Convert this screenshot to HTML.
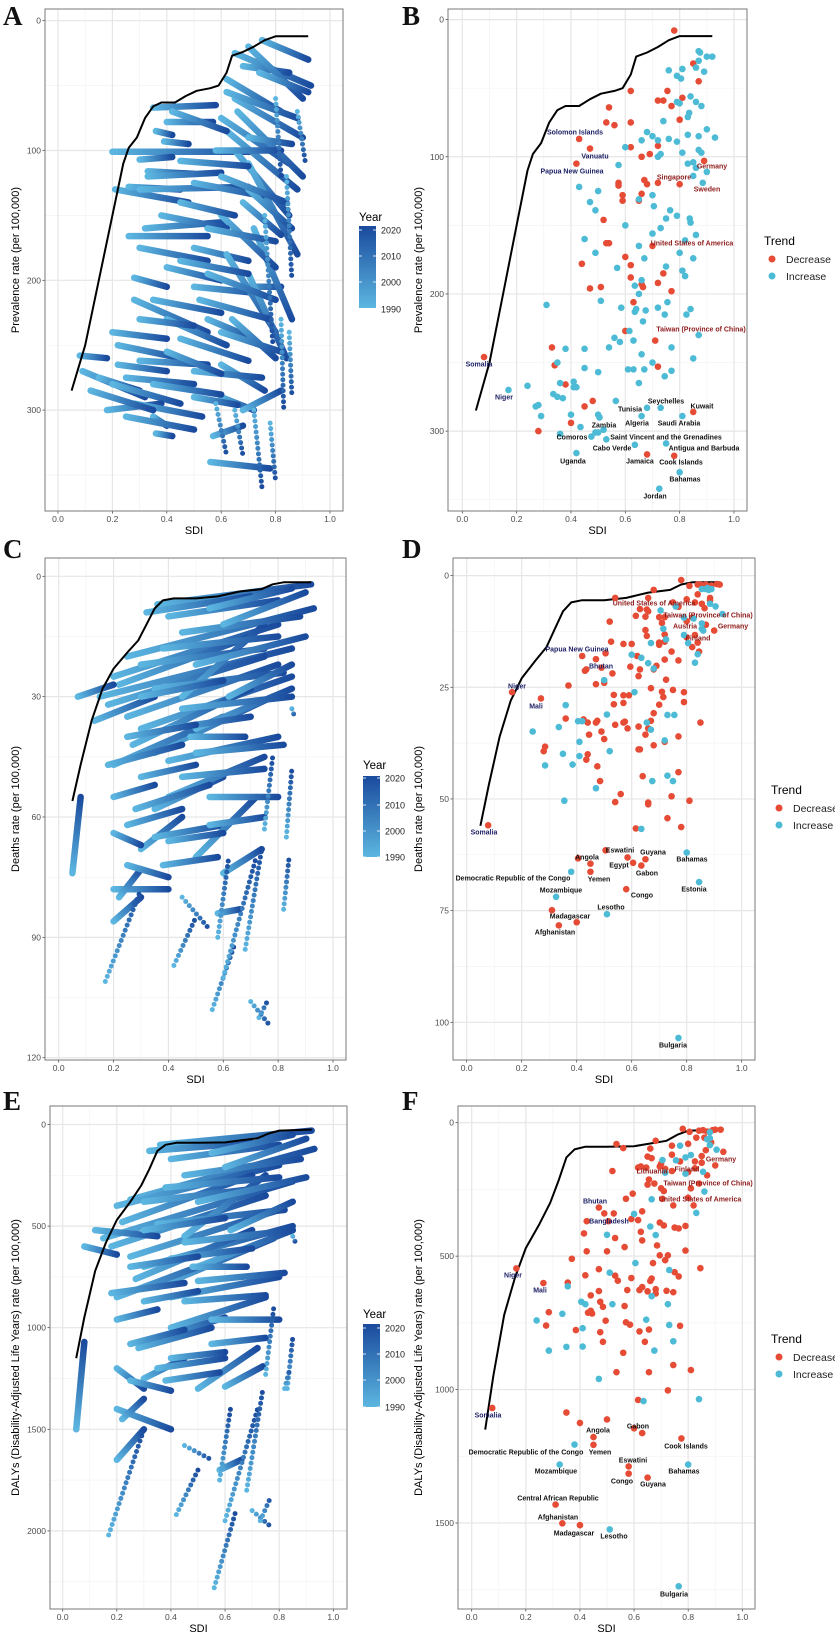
<!DOCTYPE html>
<html><head><meta charset="utf-8">
<style>
html,body{margin:0;padding:0;background:#fff;}
svg{display:block;font-family:"Liberation Sans",sans-serif;}
.lt{font-family:"Liberation Serif",serif;font-weight:bold;font-size:27px;fill:#111;}
</style></head>
<body>
<svg id="fig" width="835" height="1637" viewBox="0 0 835 1637" xmlns="http://www.w3.org/2000/svg">
<text class="lt" x="3" y="25">A</text>
<text class="lt" x="402" y="25">B</text>
<text class="lt" x="3" y="558">C</text>
<text class="lt" x="402" y="558">D</text>
<text class="lt" x="3" y="1110">E</text>
<text class="lt" x="402" y="1110">F</text>
</svg>
<script>
// ---------- data ----------
const xTicks=[0,0.2,0.4,0.6,0.8,1.0];
const xTickLabels=["0.0","0.2","0.4","0.6","0.8","1.0"];
const yearTicks=[2020,2010,2000,1990];
const curvePrev=[[0.05,285],[0.1,250],[0.15,200],[0.2,150],[0.24,110],[0.26,98],[0.29,90],[0.32,75],[0.35,66],[0.38,63],[0.43,63],[0.47,58],[0.51,54],[0.56,52],[0.59,50],[0.62,40],[0.64,27],[0.68,24],[0.72,20],[0.76,15],[0.8,12],[0.85,12],[0.92,12]];
const curveDeath=[[0.05,56],[0.08,47],[0.12,36],[0.16,28],[0.2,23],[0.25,19],[0.29,16],[0.32,12],[0.35,8],[0.38,6],[0.42,5.5],[0.5,5.5],[0.58,5],[0.66,3.8],[0.74,3.2],[0.78,2],[0.82,1.5],[0.92,1.5]];
const curveDaly=[[0.05,1150],[0.08,950],[0.12,720],[0.16,580],[0.2,470],[0.25,380],[0.29,300],[0.32,220],[0.35,130],[0.38,100],[0.42,90],[0.5,90],[0.6,88],[0.66,78],[0.72,68],[0.76,45],[0.8,30],[0.92,25]];
const trajA=[[0.35,67,0.58,65],[0.4,78,0.57,78],[0.36,85,0.42,88],[0.39,93,0.48,95],[0.2,101,0.72,101],[0.3,107,0.42,105],[0.33,116,0.5,118],[0.33,120,0.6,117],[0.21,130,0.48,140],[0.26,128,0.45,130],[0.3,130,0.7,128],[0.26,166,0.55,166],[0.32,160,0.62,155],[0.5,175,0.7,185],[0.4,190,0.6,200],[0.28,198,0.4,205],[0.5,205,0.74,210],[0.28,215,0.55,240],[0.35,215,0.6,225],[0.55,230,0.72,245],[0.2,240,0.4,245],[0.22,250,0.45,260],[0.3,262,0.55,265],[0.08,258,0.18,260],[0.09,270,0.32,290],[0.15,275,0.3,285],[0.2,280,0.45,295],[0.18,300,0.38,295],[0.28,295,0.53,305],[0.35,305,0.4,312],[0.36,318,0.42,320],[0.6,290,0.72,300],[0.68,300,0.82,285],[0.57,320,0.68,312],[0.56,340,0.78,345],[0.6,265,0.76,285],[0.68,205,0.82,205],[0.65,25,0.93,50],[0.68,35,0.85,40],[0.7,20,0.9,60],[0.62,45,0.82,70],[0.65,60,0.9,90],[0.6,75,0.85,110],[0.62,85,0.88,130],[0.65,100,0.85,150],[0.7,110,0.88,180],[0.68,140,0.82,165],[0.72,160,0.86,230],[0.6,150,0.8,190],[0.62,180,0.8,240],[0.7,195,0.84,260],[0.75,15,0.92,30],[0.45,140,0.65,150],[0.4,230,0.62,250],[0.25,275,0.5,280],
[0.42,70,0.62,85],[0.45,108,0.7,112],[0.5,125,0.75,135],[0.38,150,0.62,160],[0.55,160,0.8,170],[0.3,175,0.55,185],[0.45,185,0.7,195],[0.55,195,0.8,215],[0.3,230,0.5,235],[0.45,245,0.7,262],[0.5,270,0.75,275],[0.35,280,0.6,288],[0.12,285,0.35,300],[0.25,305,0.5,315],[0.62,55,0.88,75],[0.66,70,0.9,120],[0.7,130,0.86,160],[0.74,40,0.92,55],[0.58,100,0.82,100],[0.6,120,0.84,140],[0.52,215,0.78,230],[0.6,240,0.82,255],[0.4,255,0.6,272],[0.22,265,0.4,270],[0.5,290,0.66,296],[0.64,230,0.8,260],[0.7,90,0.86,95]];
const colsA=[[0.8,60,0.82,120],[0.84,120,0.86,200],[0.85,240,0.86,290],[0.72,300,0.75,360],[0.78,310,0.8,355],[0.65,300,0.68,335],[0.58,295,0.62,335],[0.88,70,0.91,110],[0.76,150,0.79,250],[0.82,230,0.83,300]];
const trajC=[[0.36,7,0.92,2],[0.32,9,0.7,5],[0.25,20,0.93,8],[0.2,25,0.8,12],[0.15,30,0.85,18],[0.22,27,0.7,15],[0.18,32,0.75,20],[0.25,35,0.8,22],[0.3,38,0.85,25],[0.27,42,0.7,28],[0.35,44,0.78,30],[0.2,47,0.6,35],[0.4,46,0.8,40],[0.13,36,0.35,30],[0.07,30,0.2,27],[0.18,47,0.45,42],[0.35,58,0.6,50],[0.4,55,0.75,45],[0.28,58,0.55,52],[0.3,68,0.45,60],[0.35,65,0.6,62],[0.5,70,0.72,55],[0.2,64,0.3,67],[0.2,78,0.4,78],[0.22,80,0.3,73],[0.58,84,0.66,83],[0.2,86,0.3,80],[0.05,74,0.08,55],[0.45,30,0.75,12],[0.5,38,0.85,28],
[0.4,10,0.8,6],[0.45,14,0.88,10],[0.38,18,0.8,15],[0.3,22,0.75,18],[0.5,22,0.9,15],[0.35,28,0.82,24],[0.45,33,0.85,30],[0.3,30,0.6,26],[0.4,38,0.7,35],[0.25,40,0.5,37],[0.5,44,0.82,42],[0.45,50,0.75,48],[0.3,50,0.5,47],[0.55,55,0.8,55],[0.25,62,0.45,58],[0.4,66,0.6,64],[0.55,62,0.75,60],[0.38,72,0.58,70],[0.6,74,0.74,68],[0.25,72,0.4,75],[0.6,12,0.9,4],[0.55,8,0.85,3],[0.48,40,0.68,40],[0.62,30,0.85,22],[0.2,55,0.35,52]];
const colsC=[[0.17,101,0.3,78],[0.42,97,0.5,85],[0.56,108,0.64,92],[0.58,90,0.62,70],[0.6,100,0.72,70],[0.68,93,0.74,68],[0.7,106,0.77,112],[0.73,110,0.76,106],[0.75,63,0.78,45],[0.83,65,0.85,48],[0.82,83,0.84,70],[0.85,33,0.86,35],[0.45,80,0.55,88]];
const trajE=[[0.36,100,0.92,30],[0.32,130,0.7,90],[0.25,370,0.93,120],[0.2,400,0.8,200],[0.15,560,0.85,280],[0.22,480,0.7,250],[0.18,600,0.75,350],[0.25,650,0.8,420],[0.3,700,0.85,500],[0.27,760,0.7,520],[0.35,800,0.78,560],[0.2,850,0.6,650],[0.4,850,0.8,750],[0.12,520,0.35,550],[0.08,600,0.2,640],[0.18,830,0.45,780],[0.35,1050,0.6,950],[0.4,1000,0.75,850],[0.28,1100,0.55,1000],[0.3,1250,0.45,1150],[0.35,1200,0.6,1150],[0.5,1300,0.72,1100],[0.2,1200,0.3,1300],[0.2,1400,0.4,1500],[0.22,1450,0.3,1350],[0.58,1700,0.66,1650],[0.2,1650,0.3,1500],[0.05,1500,0.08,1070],[0.45,550,0.75,250],[0.5,700,0.85,520],
[0.4,170,0.8,100],[0.45,250,0.88,170],[0.38,310,0.8,260],[0.3,380,0.75,310],[0.5,380,0.9,260],[0.35,490,0.82,420],[0.45,580,0.85,520],[0.3,520,0.6,460],[0.4,660,0.7,610],[0.25,700,0.5,650],[0.5,770,0.82,730],[0.45,870,0.75,840],[0.3,870,0.5,820],[0.55,960,0.8,960],[0.25,1080,0.45,1010],[0.4,1150,0.6,1120],[0.55,1080,0.75,1050],[0.38,1260,0.58,1220],[0.6,1290,0.74,1190],[0.25,1260,0.4,1310],[0.6,210,0.9,70],[0.55,140,0.85,50],[0.48,700,0.68,700],[0.62,520,0.85,380],[0.2,960,0.35,910]];
const colsE=[[0.17,2020,0.3,1500],[0.42,1920,0.5,1700],[0.56,2280,0.64,1900],[0.58,1750,0.62,1400],[0.6,1950,0.72,1400],[0.68,1800,0.74,1300],[0.7,1900,0.77,1980],[0.73,1950,0.77,1830],[0.75,1230,0.78,900],[0.83,1300,0.85,1050],[0.82,1300,0.84,1200],[0.85,550,0.86,580],[0.45,1580,0.55,1650]];
const decB=[[0.78,8],[0.85,32],[0.87,45],[0.62,52],[0.755,52],[0.72,59],[0.74,59],[0.81,57],[0.77,63],[0.54,64],[0.53,75],[0.56,77],[0.62,75],[0.8,73],[0.43,87],[0.47,94],[0.62,93],[0.72,92],[0.66,100],[0.69,98],[0.89,103],[0.42,105],[0.67,117],[0.68,120],[0.72,119],[0.8,120],[0.575,119],[0.575,121],[0.59,128],[0.59,132],[0.66,127],[0.65,132],[0.52,146],[0.53,163],[0.54,163],[0.7,165],[0.6,173],[0.44,178],[0.62,179],[0.74,185],[0.47,196],[0.51,195],[0.62,188],[0.66,193],[0.665,195],[0.72,192],[0.77,198],[0.63,206],[0.6,227],[0.71,234],[0.33,239],[0.08,246],[0.34,252],[0.38,266],[0.72,253],[0.48,278],[0.45,282],[0.85,286],[0.4,294],[0.28,300],[0.68,317],[0.78,318]];
const incB=[[0.87,23],[0.875,24],[0.9,27],[0.92,27],[0.87,30],[0.86,35],[0.89,38],[0.76,37],[0.79,41],[0.805,43],[0.81,36],[0.84,56],[0.86,60],[0.79,60],[0.8,61],[0.88,63],[0.835,68],[0.83,71],[0.74,74],[0.9,80],[0.68,82],[0.7,85],[0.66,88],[0.76,87],[0.72,88],[0.79,89],[0.83,84],[0.87,85],[0.93,86],[0.6,93],[0.87,95],[0.88,97],[0.81,97],[0.73,98],[0.72,100],[0.83,105],[0.85,104],[0.86,108],[0.9,111],[0.575,106],[0.85,114],[0.885,119],[0.43,122],[0.5,125],[0.47,133],[0.49,139],[0.65,131],[0.7,128],[0.705,136],[0.765,139],[0.79,143],[0.75,145],[0.837,145],[0.84,148],[0.6,150],[0.73,152],[0.7,156],[0.86,157],[0.82,161],[0.45,160],[0.65,165],[0.8,170],[0.49,170],[0.67,174],[0.85,174],[0.57,181],[0.75,180],[0.81,183],[0.82,187],[0.66,190],[0.635,194],[0.65,200],[0.755,206],[0.51,205],[0.31,208],[0.585,210],[0.64,211],[0.635,213],[0.72,210],[0.675,212],[0.745,215],[0.825,215],[0.84,211],[0.665,220],[0.615,227],[0.87,230],[0.56,232],[0.58,235],[0.63,234],[0.54,239],[0.38,240],[0.45,240],[0.77,239],[0.66,244],[0.85,247],[0.35,250],[0.7,250],[0.45,254],[0.5,257],[0.61,255],[0.63,255],[0.67,255],[0.77,256],[0.745,260],[0.65,265],[0.41,264],[0.36,265],[0.41,268],[0.42,268],[0.24,267],[0.17,270],[0.335,273],[0.35,275],[0.37,276],[0.565,278],[0.68,283],[0.73,283],[0.27,282],[0.28,281],[0.29,289],[0.4,288],[0.66,289],[0.81,289],[0.5,288],[0.505,290],[0.435,297],[0.36,302],[0.475,304],[0.49,301],[0.5,301],[0.52,299],[0.53,306],[0.635,310],[0.75,309],[0.42,316],[0.8,330],[0.725,342]];
const decD=[[0.78,1],[0.81,2.3],[0.84,2],[0.85,2],[0.86,2.2],[0.87,2],[0.89,2.2],[0.91,1.9],[0.92,2],[0.68,3.2],[0.84,4.2],[0.885,5],[0.885,5.5],[0.54,5],[0.66,5],[0.75,6],[0.77,7],[0.8,5.3],[0.83,6],[0.855,6.3],[0.865,7.3],[0.63,7.5],[0.655,7.6],[0.66,8],[0.615,9],[0.65,9.2],[0.7,9.3],[0.72,9.3],[0.71,10.6],[0.8,10.2],[0.82,9.4],[0.87,11],[0.9,12.3],[0.52,10.3],[0.65,12.2],[0.655,13.5],[0.72,13.2],[0.72,14.8],[0.8,13.8],[0.83,13.3],[0.84,15],[0.82,16],[0.7,15],[0.7,15.5],[0.525,14.8],[0.57,15.3],[0.6,15.3],[0.745,17],[0.845,17],[0.505,17.4],[0.42,18],[0.47,18.7],[0.62,18],[0.72,18.8],[0.77,19],[0.595,20.4],[0.63,21],[0.69,20.2],[0.68,21],[0.49,20.6],[0.43,21.3],[0.435,21],[0.53,21.9],[0.625,22.5],[0.725,23.3],[0.37,24.6],[0.47,24.3],[0.5,24],[0.165,26.1],[0.67,25.2],[0.71,26],[0.75,25.6],[0.79,26.1],[0.715,27.2],[0.27,27.5],[0.535,26.7],[0.57,26.8],[0.59,26.8],[0.57,28.5],[0.535,28.8],[0.79,28.3],[0.7,28.9],[0.68,30.8],[0.67,32.5],[0.36,32],[0.425,32.2],[0.44,32.9],[0.475,32.5],[0.47,32.9],[0.54,33.4],[0.57,32.9],[0.575,32.7],[0.585,34.2],[0.625,33.8],[0.66,34.2],[0.85,32.9],[0.445,35.6],[0.49,34.9],[0.65,35.6],[0.5,36.6],[0.68,38],[0.77,36],[0.72,37.2],[0.285,38.3],[0.28,39.3],[0.625,38.9],[0.63,38.9],[0.44,40],[0.435,41.2],[0.475,42.7],[0.77,44],[0.64,44.9],[0.485,46],[0.56,48.9],[0.54,50.7],[0.66,50.8],[0.66,51.2],[0.745,49.4],[0.81,50.4],[0.73,54.3],[0.078,55.9],[0.615,56.6],[0.78,56.3],[0.505,61.5],[0.405,63.3],[0.585,63.1],[0.65,63.5],[0.45,64.5],[0.605,64.3],[0.635,64.9],[0.45,66.3],[0.58,70.2],[0.31,74.9],[0.4,77.6],[0.335,78.3]];
const incD=[[0.87,3],[0.875,2.8],[0.89,3],[0.88,3.2],[0.855,3],[0.905,6.9],[0.93,8.6],[0.885,6.3],[0.705,7.8],[0.76,6.9],[0.79,9.4],[0.825,9.6],[0.855,10.7],[0.855,11.9],[0.86,12.3],[0.79,13.3],[0.805,15.1],[0.715,11.9],[0.725,14.3],[0.67,15.1],[0.84,17.6],[0.83,19.5],[0.6,17.7],[0.635,18.4],[0.66,19.6],[0.68,20.8],[0.5,23.4],[0.61,26.1],[0.36,29],[0.51,31.1],[0.73,31.2],[0.755,31.2],[0.405,32.6],[0.42,32.6],[0.335,33.9],[0.655,32.9],[0.67,34.5],[0.24,34.9],[0.41,37.2],[0.72,36.9],[0.52,39.3],[0.35,39.9],[0.41,40.4],[0.385,42.3],[0.285,42.5],[0.73,44.8],[0.75,46],[0.675,46],[0.47,47.6],[0.355,50.4],[0.635,56.7],[0.8,62],[0.38,66.3],[0.325,71.9],[0.845,68.6],[0.51,75.8],[0.77,103.5]];
const decF=[[0.78,23],[0.805,34],[0.84,30],[0.855,28],[0.87,33],[0.89,28],[0.9,26],[0.92,26],[0.83,56],[0.86,56],[0.535,80],[0.56,95],[0.68,68],[0.66,97],[0.74,86],[0.8,79],[0.885,74],[0.865,103],[0.93,109],[0.85,125],[0.65,127],[0.665,133],[0.7,154],[0.74,120],[0.77,145],[0.825,145],[0.85,150],[0.9,160],[0.615,168],[0.625,164],[0.645,168],[0.695,164],[0.715,173],[0.52,181],[0.74,181],[0.8,185],[0.825,171],[0.87,197],[0.655,213],[0.65,232],[0.675,228],[0.7,246],[0.81,246],[0.84,228],[0.71,256],[0.57,285],[0.595,266],[0.705,285],[0.745,310],[0.82,310],[0.8,281],[0.47,318],[0.49,340],[0.525,340],[0.63,332],[0.59,361],[0.615,365],[0.425,369],[0.505,369],[0.695,374],[0.71,385],[0.75,393],[0.765,396],[0.79,387],[0.415,415],[0.625,409],[0.63,441],[0.53,432],[0.565,466],[0.685,460],[0.695,497],[0.725,497],[0.425,482],[0.5,482],[0.79,479],[0.715,515],[0.37,510],[0.67,526],[0.165,546],[0.47,549],[0.75,560],[0.765,576],[0.845,545],[0.42,572],[0.53,573],[0.54,592],[0.59,582],[0.665,584],[0.66,593],[0.265,601],[0.355,599],[0.47,631],[0.575,627],[0.62,627],[0.63,616],[0.65,632],[0.68,624],[0.68,640],[0.72,630],[0.745,635],[0.44,647],[0.475,671],[0.485,690],[0.565,687],[0.285,710],[0.43,712],[0.44,705],[0.445,715],[0.435,710],[0.495,742],[0.57,748],[0.585,757],[0.275,760],[0.385,777],[0.475,785],[0.62,782],[0.655,775],[0.77,761],[0.485,821],[0.64,821],[0.56,862],[0.745,908],[0.535,935],[0.655,935],[0.81,927],[0.725,1003],[0.615,1039],[0.076,1069],[0.35,1086],[0.4,1125],[0.5,1112],[0.6,1145],[0.63,1163],[0.45,1178],[0.45,1207],[0.775,1183],[0.58,1288],[0.58,1315],[0.65,1330],[0.31,1431],[0.335,1501],[0.4,1508]];
const incF=[[0.88,36],[0.88,58],[0.88,84],[0.87,62],[0.905,101],[0.705,140],[0.77,86],[0.755,141],[0.79,130],[0.81,121],[0.715,187],[0.79,191],[0.855,184],[0.86,258],[0.665,287],[0.6,342],[0.83,338],[0.66,389],[0.68,421],[0.5,420],[0.605,526],[0.51,562],[0.73,552],[0.355,613],[0.665,650],[0.405,671],[0.42,680],[0.52,680],[0.725,680],[0.335,716],[0.24,741],[0.645,738],[0.73,758],[0.41,770],[0.745,819],[0.285,854],[0.35,840],[0.41,839],[0.675,854],[0.47,960],[0.635,1043],[0.84,1036],[0.38,1206],[0.325,1281],[0.8,1281],[0.51,1524],[0.765,1737]];
const labelsB=[["Solomon Islands",575,132,"n"],["Vanuatu",595,156,"n"],["Papua New Guinea",572,171,"n"],["Somalia",479,364,"n"],["Niger",504,397,"n"],["Germany",712,166,"r"],["Singapore",674,177,"r"],["Sweden",707,189,"r"],["United States of America",692,243,"r"],["Taiwan (Province of China)",701,329,"r"],["Seychelles",666,401,"k"],["Kuwait",702,406,"k"],["Tunisia",630,409,"k"],["Algeria",637,423,"k"],["Saudi Arabia",679,423,"k"],["Zambia",604,425,"k"],["Comoros",572,437,"k"],["Saint Vincent and the Grenadines",666,437,"k"],["Cabo Verde",612,448,"k"],["Antigua and Barbuda",704,448,"k"],["Uganda",573,461,"k"],["Jamaica",640,461,"k"],["Cook Islands",681,462,"k"],["Bahamas",685,479,"k"],["Jordan",655,496,"k"]];
const labelsD=[["United States of America",654,603,"r"],["Taiwan (Province of China)",708,615,"r"],["Austria",685,626,"r"],["Germany",733,626,"r"],["Finland",698,638,"r"],["Papua New Guinea",577,649,"n"],["Bhutan",601,666,"n"],["Niger",517,686,"n"],["Mali",536,706,"n"],["Somalia",484,832,"n"],["Eswatini",620,850,"k"],["Angola",587,857,"k"],["Guyana",653,852,"k"],["Bahamas",692,859,"k"],["Egypt",619,865,"k"],["Gabon",647,873,"k"],["Democratic Republic of the Congo",513,878,"k"],["Yemen",599,879,"k"],["Estonia",694,889,"k"],["Mozambique",561,890,"k"],["Congo",642,895,"k"],["Lesotho",611,907,"k"],["Madagascar",570,916,"k"],["Afghanistan",555,932,"k"],["Bulgaria",673,1045,"k"]];
const labelsF=[["Germany",721,1159,"r"],["Lithuania",652,1171,"r"],["Finland",687,1169,"r"],["Taiwan (Province of China)",708,1183,"r"],["United States of America",700,1199,"r"],["Bhutan",595,1201,"n"],["Bangladesh",609,1221,"n"],["Niger",513,1275,"n"],["Mali",540,1290,"n"],["Somalia",488,1415,"n"],["Gabon",638,1426,"k"],["Angola",598,1430,"k"],["Cook Islands",686,1446,"k"],["Democratic Republic of the Congo",526,1452,"k"],["Yemen",600,1452,"k"],["Eswatini",633,1460,"k"],["Mozambique",556,1471,"k"],["Bahamas",684,1471,"k"],["Congo",622,1481,"k"],["Guyana",653,1484,"k"],["Central African Republic",558,1498,"k"],["Afghanistan",558,1517,"k"],["Madagascar",574,1533,"k"],["Lesotho",614,1536,"k"],["Bulgaria",674,1594,"k"]];

// ---------- drawing ----------
const NS="http://www.w3.org/2000/svg";
const svg=document.getElementById('fig');
const defs=document.createElementNS(NS,'defs');svg.appendChild(defs);
let gid=0;
function mk(tag,attrs,parent){const e=document.createElementNS(NS,tag);for(const k in attrs)e.setAttribute(k,attrs[k]);parent.appendChild(e);return e;}
const LIGHT="#5cb6e0",DARK="#1a4a9d",RED="#E64B35",BLUE="#4DBBD5";
const LCOL={n:"#1f2266",r:"#8e1b1b",k:"#111"};

function panel(p){
  const g=mk('g',{},svg);
  
  
  const X=v=>p.x0+p.xk*v, Y=v=>p.y0+p.yk*v;
  p.X=X;p.Y=Y;
  const bg=mk('rect',{x:p.bx0,y:p.by0,width:p.bx1-p.bx0,height:p.by1-p.by0,fill:'#fff'},g);
  
  
  for(let v=0.1;v<1.05;v+=0.2){const l=mk('line',{x1:X(v),x2:X(v),y1:p.by0,y2:p.by1,stroke:'#f3f3f3','stroke-width':0.7},g);
    
    }
  p.minor.forEach(v=>{const l=mk('line',{x1:p.bx0,x2:p.bx1,y1:Y(v),y2:Y(v),stroke:'#f3f3f3','stroke-width':0.7},g);
    
    });
  xTicks.forEach((v,i)=>{const l=mk('line',{x1:X(v),x2:X(v),y1:p.by0,y2:p.by1,stroke:'#e6e6e6','stroke-width':1.2},g);
    
    
    const t=mk('text',{x:X(v),y:p.by1+11,'font-size':8.5,fill:'#4d4d4d','text-anchor':'middle'},g);t.textContent=xTickLabels[i];
    
    
    const tk=mk('line',{x1:X(v),x2:X(v),y1:p.by1,y2:p.by1+2.5,stroke:'#333','stroke-width':0.7},g);
    
    });
  p.yticks.forEach(v=>{const l=mk('line',{x1:p.bx0,x2:p.bx1,y1:Y(v),y2:Y(v),stroke:'#e6e6e6','stroke-width':1.2},g);
    
    
    const t=mk('text',{x:p.bx0-4,y:Y(v)+3,'font-size':8.5,fill:'#4d4d4d','text-anchor':'end'},g);t.textContent=String(v);
    
    
    const tk=mk('line',{x1:p.bx0-2.5,x2:p.bx0,y1:Y(v),y2:Y(v),stroke:'#333','stroke-width':0.7},g);
    
    });
  const xt=mk('text',{x:(p.bx0+p.bx1)/2,y:p.by1+23,'font-size':11,fill:'#000','text-anchor':'middle'},g);xt.textContent='SDI';
  
  
  const yc=(p.by0+p.by1)/2;
  const yt=mk('text',{x:0,y:0,'font-size':11,fill:'#000','text-anchor':'middle',transform:`translate(${p.ytx},${yc}) rotate(-90)`},g);yt.textContent=p.ytitle;
  
  
  const marks=mk('g',{},g);
  
  
  p.g=marks;p.root=g;
  return p;
}
function frame(p){
  const f=mk('rect',{x:p.bx0,y:p.by0,width:p.bx1-p.bx0,height:p.by1-p.by0,fill:'none',stroke:'#7a7a7a','stroke-width':1},p.root);
  
  
}
function trajectories(p,arr,dotted){
  arr.forEach(t=>{
    const x1=p.X(t[0]),y1=p.Y(t[1]),x2=p.X(t[2]),y2=p.Y(t[3]);
    const id='gr'+(gid++);
    const lg=mk('linearGradient',{id:id,gradientUnits:'userSpaceOnUse',x1:x1,y1:y1,x2:x2,y2:y2},defs);
    mk('stop',{offset:0,'stop-color':LIGHT},lg);mk('stop',{offset:1,'stop-color':DARK},lg);
    const a={x1:x1,y1:y1,x2:x2+0.01,y2:y2+0.01,stroke:`url(#${id})`,'stroke-linecap':'round'};
    if(dotted){a['stroke-width']=5;a['stroke-dasharray']='0 5.5';}else{a['stroke-width']=6.5;}
    const l=mk('line',a,p.g);
    
    
  });
}
function curve(p,arr){
  const d=arr.map((c,i)=>(i?'L':'M')+p.X(c[0]).toFixed(1)+','+p.Y(c[1]).toFixed(1)).join(' ');
  const c=mk('path',{d:d,fill:'none',stroke:'#000','stroke-width':2,'stroke-linejoin':'round'},p.g);
  
  
}
function points(p,arr,col,name){
  arr.forEach(v=>{const c=mk('circle',{cx:p.X(v[0]),cy:p.Y(v[1]),r:3.3,fill:col},p.g);
    
    });
}
function labels(p,arr){
  arr.forEach(l=>{const t=mk('text',{x:l[1],y:l[2]+2.5,'font-size':7,'font-weight':'bold',fill:LCOL[l[3]],'text-anchor':'middle'},p.g);t.textContent=l[0];
    
    });
}
function yearLegend(x,yt,yb0,yb1,labY){
  const g=mk('g',{},svg);
  
  
  const id='yl'+(gid++);
  const lg=mk('linearGradient',{id:id,x1:0,y1:1,x2:0,y2:0},defs);
  mk('stop',{offset:0,'stop-color':LIGHT},lg);mk('stop',{offset:1,'stop-color':DARK},lg);
  const t=mk('text',{x:x,y:yt,'font-size':11.5,fill:'#000'},g);t.textContent='Year';
  
  
  const r=mk('rect',{x:x,y:yb0,width:17,height:yb1-yb0,fill:`url(#${id})`},g);
  
  
  yearTicks.forEach((yr,i)=>{const tt=mk('text',{x:x+22,y:labY[i]+3.5,'font-size':9,fill:'#222'},g);tt.textContent=String(yr);
    
    
    mk('line',{x1:x,x2:x+3,y1:labY[i],y2:labY[i],stroke:'#fff','stroke-width':0.8},g);
    mk('line',{x1:x+14,x2:x+17,y1:labY[i],y2:labY[i],stroke:'#fff','stroke-width':0.8},g);});
}
function trendLegend(x,yt,yd,yi){
  const g=mk('g',{},svg);
  
  
  const t=mk('text',{x:x,y:yt+4,'font-size':12,fill:'#000'},g);t.textContent='Trend';
  
  
  [[yd,RED,'Decrease'],[yi,BLUE,'Increase']].forEach(e=>{
    const c=mk('circle',{cx:x+8,cy:e[0],r:3.5,fill:e[1]},g);
    
    
    const tt=mk('text',{x:x+22,y:e[0]+4,'font-size':10.5,fill:'#222'},g);tt.textContent=e[2];
    
    
  });
}

const A=panel({name:'panel-a-prevalence-trajectories',bx0:45,by0:9,bx1:343,by1:511,x0:58,xk:272,y0:20.7,yk:1.298,yticks:[0,100,200,300],minor:[50,150,250,350],ytx:19,ytitle:'Prevalence rate (per 100,000)'});
trajectories(A,trajA,false);trajectories(A,colsA,true);curve(A,curvePrev);frame(A);
yearLegend(359,221,226,308,[230,256,282,309]);
const B=panel({name:'panel-b-prevalence-countries',bx0:448,by0:9,bx1:747,by1:511,x0:462.3,xk:271.7,y0:19.6,yk:1.3717,yticks:[0,100,200,300],minor:[50,150,250,350],ytx:422,ytitle:'Prevalence rate (per 100,000)'});
curve(B,curvePrev);points(B,decB,RED,'decrease-point');points(B,incB,BLUE,'increase-point');labels(B,labelsB);frame(B);
trendLegend(764,241,259,276);
const C=panel({name:'panel-c-deaths-trajectories',bx0:45,by0:558,bx1:346,by1:1060,x0:58.7,xk:274.3,y0:576.3,yk:4.012,yticks:[0,30,60,90,120],minor:[15,45,75,105],ytx:19,ytitle:'Deaths rate (per 100,000)'});
trajectories(C,trajC,false);trajectories(C,colsC,true);curve(C,curveDeath);frame(C);
yearLegend(363,769,776,857,[778,805,831,857]);
const D=panel({name:'panel-d-deaths-countries',bx0:453,by0:558,bx1:755,by1:1060,x0:466.7,xk:275,y0:575.6,yk:4.467,yticks:[0,25,50,75,100],minor:[12.5,37.5,62.5,87.5],ytx:422,ytitle:'Deaths rate (per 100,000)'});
curve(D,curveDeath);points(D,decD,RED,'decrease-point');points(D,incD,BLUE,'increase-point');labels(D,labelsD);frame(D);
trendLegend(771,790,808,825);
const E=panel({name:'panel-e-dalys-trajectories',bx0:50,by0:1106,bx1:347,by1:1609,x0:62.7,xk:270.6,y0:1124.5,yk:0.2032,yticks:[0,500,1000,1500,2000],minor:[250,750,1250,1750,2250],ytx:19,ytitle:'DALYs (Disability-Adjusted Life Years) rate (per 100,000)'});
trajectories(E,trajE,false);trajectories(E,colsE,true);curve(E,curveDaly);frame(E);
yearLegend(363,1318,1324,1407,[1328,1354,1380,1407]);
const F=panel({name:'panel-f-dalys-countries',bx0:458,by0:1106,bx1:755,by1:1609,x0:471.7,xk:270.6,y0:1122.7,yk:0.26687,yticks:[0,500,1000,1500],minor:[250,750,1250,1750],ytx:422,ytitle:'DALYs (Disability-Adjusted Life Years) rate (per 100,000)'});
curve(F,curveDaly);points(F,decF,RED,'decrease-point');points(F,incF,BLUE,'increase-point');labels(F,labelsF);frame(F);
trendLegend(771,1339,1357,1374);
</script>
</body></html>
